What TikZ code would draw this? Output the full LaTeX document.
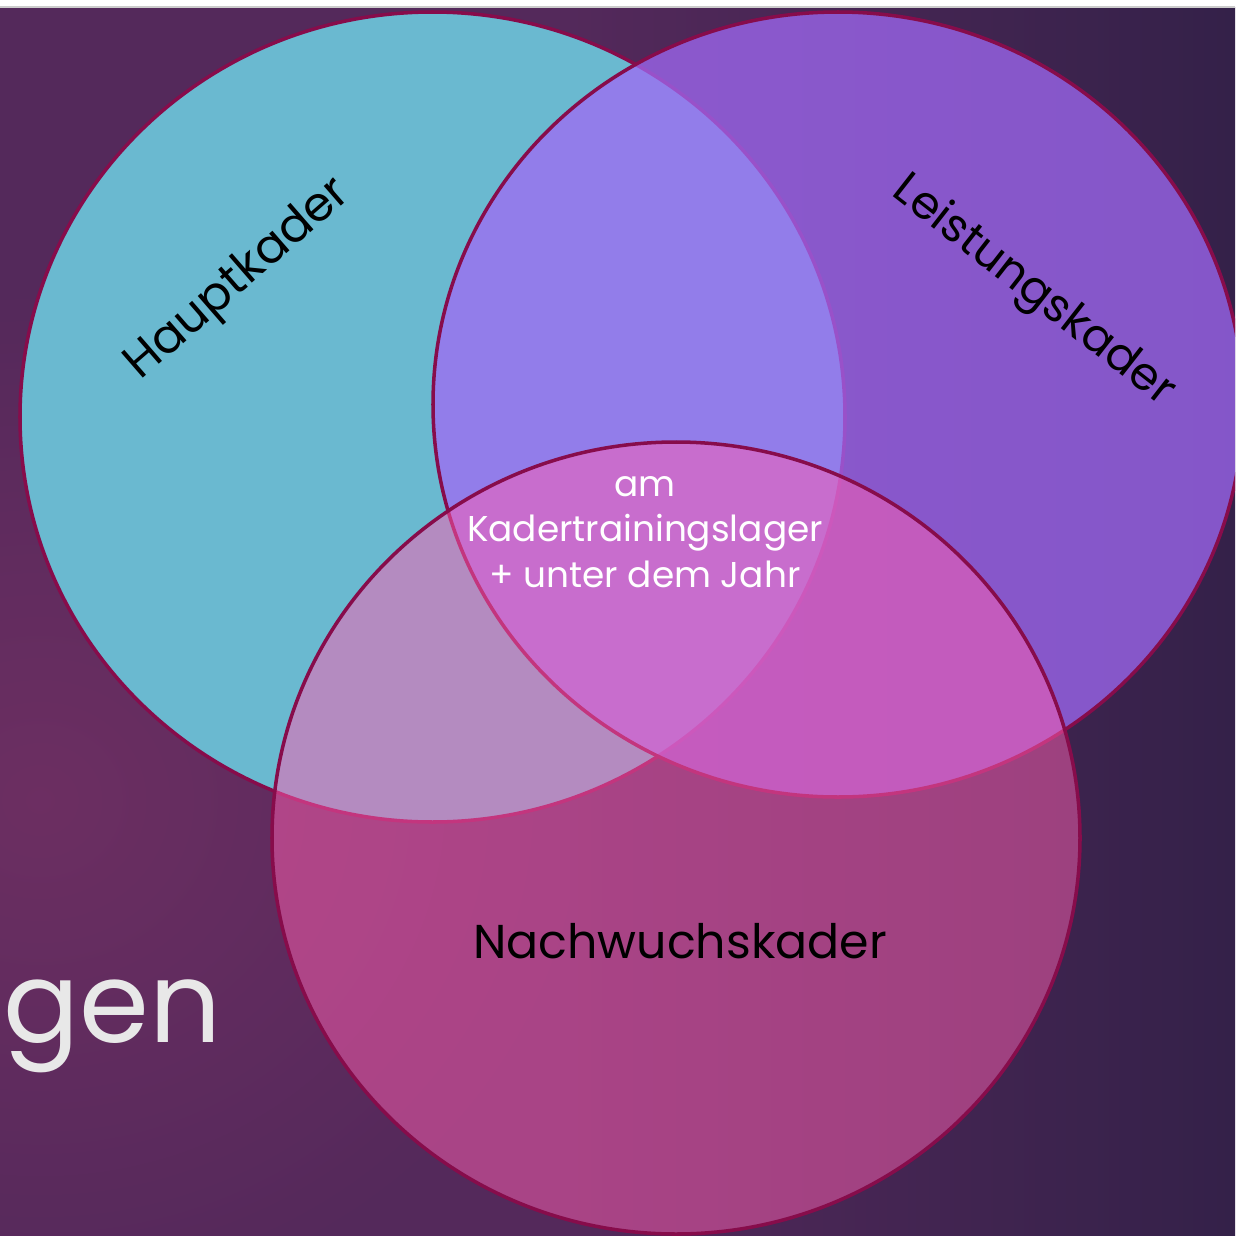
\documentclass[tikz,border=0pt]{standalone}
\usepackage{fontspec}
\setmainfont{Poppins}
\usepackage{tikz}
\usetikzlibrary{fadings}

\definecolor{bgleft}{RGB}{84,41,91}
\definecolor{bgright}{RGB}{52,33,73}
\definecolor{bgglow}{RGB}{122,50,102}
\definecolor{rim}{RGB}{135,12,75}
\definecolor{hauptcol}{RGB}{106,185,208}
\definecolor{leistcol}{RGB}{160,105,244}
\definecolor{nachcol}{RGB}{255,95,177}
\definecolor{gencol}{RGB}{232,232,232}

\tikzfading[name=glowfade, inner color=transparent!35, outer color=transparent!100]

\begin{document}
\begin{tikzpicture}[x=0.01cm,y=-0.01cm,
  vennring/.style={draw=rim,line width=1pt},
  cadre/.style={inner sep=0pt,font=\fontsize{13.5}{16}\selectfont}]

\useasboundingbox (0,0) rectangle (1235,1236) ;
\clip (0,0) rectangle (1235,1236) ;

% background
\fill[white] (0,0) rectangle (1235,7) ;
\fill[bgleft] (0,7) rectangle (560,1236) ;
\shade[left color=bgleft,right color=bgright] (559,7) rectangle (1235,1236) ;
\fill[bgglow,path fading=glowfade] (40,800) ellipse (560 and 520) ;
\draw[black!20,line width=0.4pt] (0,7) -- (1235,7) ;

\coordinate (c_haupt) at (432.5,417) ;
\coordinate (c_leist) at (838,404.5) ;
\coordinate (c_nach) at (676,838) ;

% the three sets
\filldraw[vennring,fill=hauptcol] (c_haupt) ellipse (412.5 and 405) ;
\filldraw[vennring,fill=leistcol,fill opacity=0.75] (c_leist) ellipse (405 and 392.5) ;
\filldraw[vennring,fill=nachcol,fill opacity=0.5] (c_nach) ellipse (404 and 396) ;

\node[cadre,rotate=41] (lbl_haupt) at (239,280) {Hauptkader} ;
\node[cadre,rotate=-38,font=\fontsize{13}{16}\selectfont] (lbl_leist) at (1033,292) {Leistungskader} ;
\node[cadre,anchor=base] (lbl_nach) at (680,958) {Nachwuchskader} ;
\node[inner sep=0pt,white,align=center,font=\fontsize{10.2}{13}\selectfont] (lbl_mitte) at (645,532) {am\\Kadertrainingslager\\+ unter dem Jahr} ;

\node[gencol,anchor=base west,inner sep=0pt,font=\fontsize{32}{38}\selectfont] (lbl_gen) at (3,1042) {gen} ;

\end{tikzpicture}
\end{document}
